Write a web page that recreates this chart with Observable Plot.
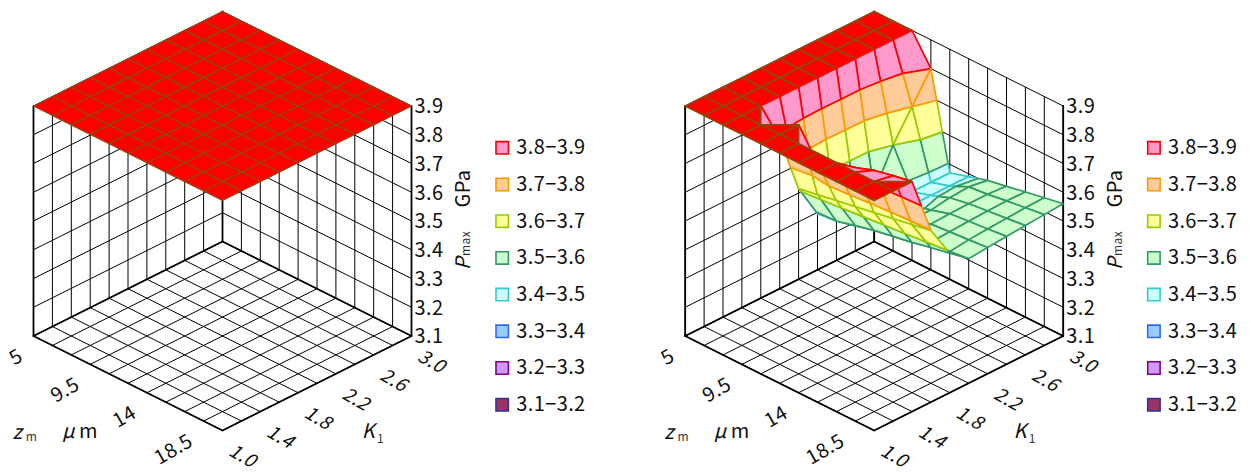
<!DOCTYPE html>
<html>
<head>
<meta charset="utf-8">
<style>html,body{margin:0;padding:0;background:#fff}svg{display:block}svg text{letter-spacing:.4px}</style>
<script src="https://cdn.jsdelivr.net/npm/d3@7"></script>
<script src="https://cdn.jsdelivr.net/npm/@observablehq/plot@0.6"></script>
</head>
<body>
<div id="chart"></div>
<script>
// K1 values along one floor edge, zm values along the other (front to back)
const kValues = [1.0,1.2,1.4,1.6,1.8,2.0,2.2,2.4,2.6,2.8,3.0];
const zmValues = [20,18.5,17,15.5,14,12.5,11,9.5,8,6.5,5];
const pValues = [3.1,3.2,3.3,3.4,3.5,3.6,3.7,3.8,3.9];
const kLabels = [1.0,1.4,1.8,2.2,2.6,3.0];
const zmLabels = [5,9.5,14,18.5];

// Pmax: one row per zm (20 ... 5), one column per K1 (1.0 ... 3.0)
const surfaceLeft = [
  [3.9,3.9,3.9,3.9,3.9,3.9,3.9,3.9,3.9,3.9,3.9],
  [3.9,3.9,3.9,3.9,3.9,3.9,3.9,3.9,3.9,3.9,3.9],
  [3.9,3.9,3.9,3.9,3.9,3.9,3.9,3.9,3.9,3.9,3.9],
  [3.9,3.9,3.9,3.9,3.9,3.9,3.9,3.9,3.9,3.9,3.9],
  [3.9,3.9,3.9,3.9,3.9,3.9,3.9,3.9,3.9,3.9,3.9],
  [3.9,3.9,3.9,3.9,3.9,3.9,3.9,3.9,3.9,3.9,3.9],
  [3.9,3.9,3.9,3.9,3.9,3.9,3.9,3.9,3.9,3.9,3.9],
  [3.9,3.9,3.9,3.9,3.9,3.9,3.9,3.9,3.9,3.9,3.9],
  [3.9,3.9,3.9,3.9,3.9,3.9,3.9,3.9,3.9,3.9,3.9],
  [3.9,3.9,3.9,3.9,3.9,3.9,3.9,3.9,3.9,3.9,3.9],
  [3.9,3.9,3.9,3.9,3.9,3.9,3.9,3.9,3.9,3.9,3.9]
];
const surfaceRight = [
  [3.9,3.9,3.9,3.697,3.585,3.533,3.539,3.545,3.55,3.555,3.56],
  [3.9,3.9,3.888,3.685,3.572,3.525,3.533,3.538,3.542,3.546,3.548],
  [3.9,3.9,3.873,3.673,3.557,3.525,3.528,3.532,3.535,3.537,3.535],
  [3.9,3.9,3.85,3.661,3.545,3.52,3.522,3.525,3.527,3.527,3.522],
  [3.9,3.9,3.82,3.649,3.533,3.51,3.507,3.505,3.515,3.52,3.51],
  [3.9,3.9,3.8,3.637,3.517,3.47,3.48,3.49,3.49,3.49,3.49],
  [3.9,3.9,3.9,3.625,3.5,3.45,3.46,3.46,3.47,3.47,3.47],
  [3.9,3.9,3.82,3.613,3.493,3.45,3.47,3.47,3.6,3.7,3.8],
  [3.9,3.9,3.9,3.9,3.9,3.9,3.9,3.9,3.9,3.9,3.9],
  [3.9,3.9,3.9,3.9,3.9,3.9,3.9,3.9,3.9,3.9,3.9],
  [3.9,3.9,3.9,3.9,3.9,3.9,3.9,3.9,3.9,3.9,3.9]
];

const bandLabels = ["3.8−3.9","3.7−3.8","3.6−3.7","3.5−3.6","3.4−3.5","3.3−3.4","3.2−3.3","3.1−3.2"];
const bandLow = [3.8,3.7,3.6,3.5,3.4,3.3,3.2,3.1];
const bandFill = ["#FF99CC","#FFCC99","#FFFF99","#CCFFCC","#CCFFFF","#99CCFF","#CC99FF","#993366"];
const bandStroke = ["#FF0000","#FF9900","#99CC00","#339966","#33CCCC","#3366FF","#800080","#333399"];
const topFill = "#FF0000", topStroke = "#8F4A08", topLevel = 3.9;

// ---- layout of the oblique view ----
const W = 1251, H = 472;
const stepX = 18.9, stepY = 9.45, pxPerP = 287.5;
const originX = 222, originY = 430, panelGap = 651.7;
const ux = px => (px - originX) / stepX;          // page x -> x scale
const uy = py => 3.1 + (originY - py) / pxPerP;   // page y -> y scale
const ang = stepY / pxPerP;
function project(a, b, p, panel) {
  return {x: a - b + panel * panelGap / stepX, y: p + (a + b) * ang};
}
const idxK = k => kValues.indexOf(k);
const idxZ = z => zmValues.indexOf(z);

function clip(poly, t, above) {
  const out = [];
  const inside = v => above ? v.p >= t : v.p <= t;
  poly.forEach((s, i) => {
    const e = poly[(i + 1) % poly.length];
    if (inside(s)) out.push(s);
    if (inside(s) !== inside(e) && s.p !== t && e.p !== t) {
      const f = (t - s.p) / (e.p - s.p);
      out.push({a: s.a + f * (e.a - s.a), b: s.b + f * (e.b - s.b), p: t});
    }
  });
  return out;
}

function surfaceRows(grid, panel) {
  const rows = [];
  const cells = [];
  for (let b = 0; b < 10; b++) for (let a = 0; a < 10; a++) cells.push([a, b]);
  cells.sort((m, n) => (n[0] + n[1]) - (m[0] + m[1]));
  let id = 0;
  const add = (poly, fill, stroke) => {
    if (new Set(poly.map(v => v.a + "," + v.b)).size < 3) return;
    id++;
    poly.forEach(v => {
      const q = project(v.a, v.b, v.p, panel);
      rows.push({x: q.x, y: q.y, id: panel + "-" + id, fill, stroke});
    });
  };
  for (const [a, b] of cells) {
    const quad = [
      {a, b, p: grid[b][a]}, {a: a + 1, b, p: grid[b][a + 1]},
      {a: a + 1, b: b + 1, p: grid[b + 1][a + 1]}, {a, b: b + 1, p: grid[b + 1][a]}
    ];
    for (let i = bandLow.length - 1; i >= 0; i--) {
      const lo = bandLow[i], hi = i === 0 ? topLevel : bandLow[i - 1];
      if (quad.every(v => v.p >= hi) || quad.every(v => v.p < lo)) continue;
      add(clip(clip(quad, lo, true), hi, false), bandFill[i], bandStroke[i]);
    }
    add(clip(quad, topLevel, true), topFill, topStroke);
  }
  return rows;
}

function boxRows(panel) {
  const thin = [], bold = [];
  const seg = (list, id, pts) => pts.forEach(([a, b, p]) => {
    const q = project(a, b, p, panel);
    list.push({x: q.x, y: q.y, id: panel + id});
  });
  const pMin = pValues[0], pMax = pValues[pValues.length - 1];
  kValues.forEach((k, i) => {
    seg(thin, "fa" + i, [[i, 0, pMin], [i, 10, pMin]]);
    seg(thin, "wa" + i, [[i, 10, pMin], [i, 10, pMax]]);
  });
  zmValues.forEach((z, i) => {
    seg(thin, "fb" + i, [[0, i, pMin], [10, i, pMin]]);
    seg(thin, "wb" + i, [[10, i, pMin], [10, i, pMax]]);
  });
  pValues.forEach((v, i) => {
    seg(thin, "h" + i, [[0, 10, v], [10, 10, v], [10, 0, v]]);
  });
  seg(bold, "o", [[0, 0, pMin], [10, 0, pMin], [10, 10, pMin], [0, 10, pMin], [0, 0, pMin]]);
  seg(bold, "v1", [[0, 10, pMin], [0, 10, pMax]]);
  seg(bold, "v2", [[10, 10, pMin], [10, 10, pMax]]);
  seg(bold, "v3", [[10, 0, pMin], [10, 0, pMax]]);
  return {thin, bold};
}

const font = "'Noto Sans CJK JP','Noto Sans',sans-serif";
const ink = "#111";
const textSize = 20;
const marks = [];

[[surfaceLeft, 1.2], [surfaceRight, 1.7]].forEach(([grid, sw], panel) => {
  const box = boxRows(panel);
  const off = panel * panelGap;
  marks.push(Plot.line(box.thin, {x: "x", y: "y", z: "id", stroke: "#000", strokeWidth: 1}));
  marks.push(Plot.line(box.bold, {x: "x", y: "y", z: "id", stroke: "#000", strokeWidth: 1.8}));
  marks.push(Plot.line(surfaceRows(grid, panel), {
    x: "x", y: "y", z: "id", fill: "fill", stroke: "stroke",
    strokeWidth: sw, strokeLinejoin: "round", curve: "linear-closed"
  }));

  // tick labels of the Pmax axis
  marks.push(Plot.text(pValues, {
    x: () => project(10, 0, 3.1, panel).x, y: v => project(10, 0, v, panel).y,
    text: v => v.toFixed(1), textAnchor: "start", dx: 3, dy: 1,
    fontSize: textSize, fill: ink
  }));
  // K1 tick labels
  marks.push(Plot.text(kLabels, {
    x: k => project(idxK(k), 0, 3.1, panel).x, y: k => project(idxK(k), 0, 3.1, panel).y,
    text: k => k.toFixed(1), dx: 20, dy: 25.5, rotate: 30,
    fontStyle: "italic", fontSize: 19, fill: ink
  }));
  // zm tick labels
  marks.push(Plot.text(zmLabels, {
    x: z => project(0, idxZ(z), 3.1, panel).x, y: z => project(0, idxZ(z), 3.1, panel).y,
    text: z => String(z), textAnchor: "end", dx: -12.5, dy: 18.5, rotate: -30,
    fontSize: textSize, fill: ink
  }));

  // axis titles
  const label = (t, px, py, o = {}) => marks.push(Plot.text([t], {
    x: () => ux(px + off), y: () => uy(py), text: d => d, fontSize: textSize, fill: ink, ...o
  }));
  label("z", 17, 432, {fontStyle: "italic"});
  label("m", 31, 437, {fontSize: 12, fill: "#333"});
  label("μ", 68, 431, {fontStyle: "italic"});
  label("m", 88, 431);
  label("K", 368, 431, {fontStyle: "italic"});
  label("1", 380, 439, {fontSize: 12, fill: "#333"});
  label("P", 463, 263, {fontStyle: "italic", rotate: -90});
  label("max", 466, 243, {fontSize: 12, fill: "#333", rotate: -90});
  label("GPa", 463, 188, {rotate: -90});

  // legend
  const legend = bandLabels.map((t, i) => ({t, fill: bandFill[i], stroke: bandStroke[i], py: 147.3 + 36.7 * i}));
  marks.push(Plot.dot(legend, {
    x: () => ux(501.7 + off), y: d => uy(d.py), symbol: "square", r: 7,
    fill: "fill", stroke: "stroke", strokeWidth: 1.6
  }));
  marks.push(Plot.text(legend, {
    x: () => ux(515.7 + off), y: d => uy(d.py), text: "t",
    textAnchor: "start", fontSize: textSize, fill: ink
  }));
});

const svg = Plot.plot({
  width: W, height: H, margin: 0,
  style: {fontFamily: font, background: "#fff"},
  x: {axis: null, domain: [ux(0), ux(W)], range: [0, W]},
  y: {axis: null, domain: [uy(H), uy(0)], range: [H, 0]},
  color: {type: "identity"},
  marks
});
document.getElementById("chart").appendChild(svg);
</script>
</body>
</html>
